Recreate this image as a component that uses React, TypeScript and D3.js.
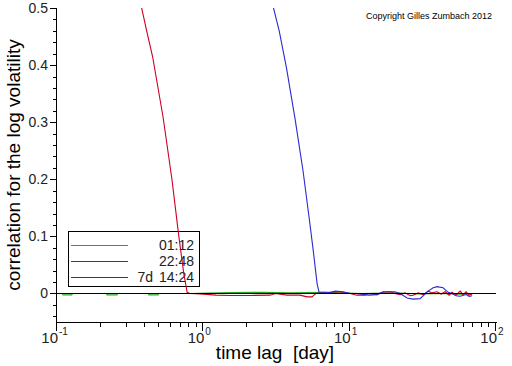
import React from "react";
import * as d3 from "d3";

const W = 512;
const H = 366;

const yTickValues = [0.5, 0.4, 0.3, 0.2, 0.1, 0];
const yTickLabels = ["0.5", "0.4", "0.3", "0.2", "0.1", "0"];
const xDecades = [0.1, 1, 10, 100];
const xExponents = ["-1", "0", "1", "2"];

const legendLabels = ["01:12", "22:48", "14:24"];
const legendPrefix = ["", "", "7d"];
const seriesColors = ["#22aa22", "#cc0022", "#2a2ad0"];

const greenLag = [0.1, 0.108, 0.11, 0.126, 0.128, 0.217, 0.22, 0.257, 0.26, 0.42, 0.425, 0.49, 0.495, 0.8, 1.5, 2.5, 4, 7, 12, 20, 30, 45, 55, 68.7];
const greenVal = [0.0, 0.0, -0.0025, -0.0025, 0.0, 0.0, -0.0025, -0.0025, 0.0, 0.0, -0.0025, -0.0025, 0.0, 0.0, 0.0015, 0.002, 0.001, 0.002, 0.0, 0.001, -0.001, 0.0, -0.0015, -0.001];

const redLag = [0.375, 0.41, 0.45, 0.53, 0.61, 0.68, 0.735, 0.775, 0.811, 0.948, 1.11, 1.22, 1.52, 2.09, 2.86, 3.1, 3.73, 4.58, 5.11, 5.53, 5.89, 6.79, 7.95, 9.02, 10.07, 11.2, 12.7, 13.4, 15.4, 16.9, 18.9, 20.4, 22.1, 23.9, 25.9, 27.1, 29.4, 31.8, 34.4, 36.6, 39.6, 42.2, 44.9, 47.8, 50.1, 53.3, 56.9, 59.6, 62.5, 65.5, 68.7];
const redVal = [0.505, 0.46, 0.415, 0.31, 0.2, 0.1, 0.035, 0.002, 0.0, -0.001, -0.002, -0.003, -0.0035, -0.0035, -0.003, 0.0, -0.003, -0.003, -0.006, -0.006, 0.0, 0.001, 0.003, 0.002, 0.0, -0.003, -0.003, 0.0, -0.002, 0.002, 0.003, 0.0, -0.002, 0.001, -0.004, -0.003, 0.001, -0.002, 0.004, 0.001, 0.003, -0.001, 0.003, -0.003, 0.002, -0.003, 0.004, -0.002, 0.003, -0.003, -0.001];

const blueLag = [2.95, 3.3, 3.7, 4.24, 4.8, 5.3, 5.62, 6.0, 6.18, 6.79, 7.35, 7.95, 9.02, 10.07, 11.2, 12.7, 13.4, 15.4, 16.9, 20.4, 22.1, 24.7, 27.1, 30.3, 34.4, 37.2, 39.6, 43.5, 47.1, 50.1, 53.3, 56.9, 62.5, 65.5, 68.7];
const blueVal = [0.51, 0.46, 0.395, 0.305, 0.215, 0.13, 0.078, 0.016, 0.002, 0.002, 0.001, 0.004, 0.003, 0.0, 0.0, -0.002, -0.003, -0.002, 0.003, 0.003, 0.0, -0.008, -0.01, -0.009, 0.004, 0.01, 0.012, 0.01, 0.002, 0.0, -0.004, -0.005, -0.002, -0.005, -0.004];

const seriesLags = [greenLag, redLag, blueLag];
const seriesVals = [greenVal, redVal, blueVal];

const FONT = "'Liberation Sans', Arial, Helvetica, sans-serif";

export default function App() {
  const x0 = 57, x1 = 496, y0 = 322, y1 = 8;
  const x = d3.scaleLog().domain([0.1, 100]).range([x0, x1]);
  const y = d3.scaleLinear().domain([-0.05, 0.5]).range([y0, y1]);

  const minorX: number[] = [];
  [0.1, 1, 10].forEach((d) => {
    for (let k = 2; k <= 9; k++) minorX.push(d * k);
  });
  const minorY = d3.range(-0.04, 0.5001, 0.02).filter((v) => Math.abs(Math.round(v * 10) - v * 10) > 1e-6);

  const line = d3
    .line<[number, number]>()
    .x((d) => x(d[0]))
    .y((d) => y(d[1]));

  const legX = 68, legY = 231, legW = 131, legH = 55;

  return (
    <svg width={W} height={H} style={{ position: "absolute", left: 0, top: 0, background: "#fff" }} fontFamily={FONT}>
      <rect x={0} y={0} width={W} height={H} fill="#fff" />
      <defs>
        <clipPath id="plot">
          <rect x={x0} y={y1} width={x1 - x0} height={y0 - y1} />
        </clipPath>
      </defs>

      {/* y axis */}
      <line x1={x0 - 0.5} x2={x0 - 0.5} y1={y1} y2={y0} stroke="#000" />
      {yTickValues.map((v, i) => (
        <g key={"yt" + i}>
          <line x1={x0 - 7} x2={x0} y1={Math.round(y(v)) + 0.5} y2={Math.round(y(v)) + 0.5} stroke="#000" />
          <text x={48} y={y(v) + 5} textAnchor="end" fontSize={14} fill="#222">
            {yTickLabels[i]}
          </text>
        </g>
      ))}
      {minorY.map((v, i) => (
        <line key={"ym" + i} x1={x0 - 4} x2={x0} y1={Math.round(y(v)) + 0.5} y2={Math.round(y(v)) + 0.5} stroke="#000" />
      ))}

      {/* x axis */}
      <line x1={x0 - 1} x2={x1 + 1} y1={y0 + 0.5} y2={y0 + 0.5} stroke="#000" />
      {xDecades.map((d, i) => (
        <g key={"xt" + i}>
          <line x1={Math.round(x(d)) - 0.5} x2={Math.round(x(d)) - 0.5} y1={y0} y2={y0 + 9} stroke="#000" />
          <text x={x(d) + 1} y={343} textAnchor="end" fontSize={15} fill="#222">
            10
          </text>
          <text x={x(d) + 2} y={335} textAnchor="start" fontSize={10} fill="#222">
            {xExponents[i]}
          </text>
        </g>
      ))}
      {minorX.map((d, i) => (
        <line key={"xm" + i} x1={Math.round(x(d)) - 0.5} x2={Math.round(x(d)) - 0.5} y1={y0} y2={y0 + 5} stroke="#000" />
      ))}

      {/* axis titles */}
      <text x={275} y={359} textAnchor="middle" fontSize={19} fill="#000" style={{ whiteSpace: "pre" }}>
        {"time lag  [day]"}
      </text>
      <text transform="translate(20,165) rotate(-90)" textAnchor="middle" fontSize={19} fill="#000">
        correlation for the log volatility
      </text>
      <text x={492} y={19} textAnchor="end" fontSize={9} fill="#000">
        Copyright Gilles Zumbach 2012
      </text>

      {/* legend */}
      <rect x={legX + 0.5} y={legY + 0.5} width={legW} height={legH} fill="none" stroke="#000" />
      {legendLabels.map((lab, i) => {
        const ly = legY + 14 + i * 16;
        return (
          <g key={"lg" + i}>
            <path d={`M71,${ly + 0.5}H128`} fill="none" stroke={seriesColors[i]} strokeWidth={1.2} />
            <text x={194} y={ly + 5} textAnchor="end" fontSize={14} fill="#222">
              {lab}
            </text>
            {legendPrefix[i] ? (
              <text x={153} y={ly + 5} textAnchor="end" fontSize={14} fill="#222">
                {legendPrefix[i]}
              </text>
            ) : null}
          </g>
        );
      })}

      {/* series */}
      <g clipPath="url(#plot)">
        {seriesLags.map((lags, si) => {
          const pts: [number, number][] = lags.map((l, j) => [l, seriesVals[si][j]]);
          return <path key={"s" + si} d={line(pts) || ""} fill="none" stroke={seriesColors[si]} strokeWidth={1.1} />;
        })}
      </g>

      {/* zero line */}
      <line x1={x0} x2={x1} y1={Math.round(y(0)) + 0.5} y2={Math.round(y(0)) + 0.5} stroke="#000" />
    </svg>
  );
}
